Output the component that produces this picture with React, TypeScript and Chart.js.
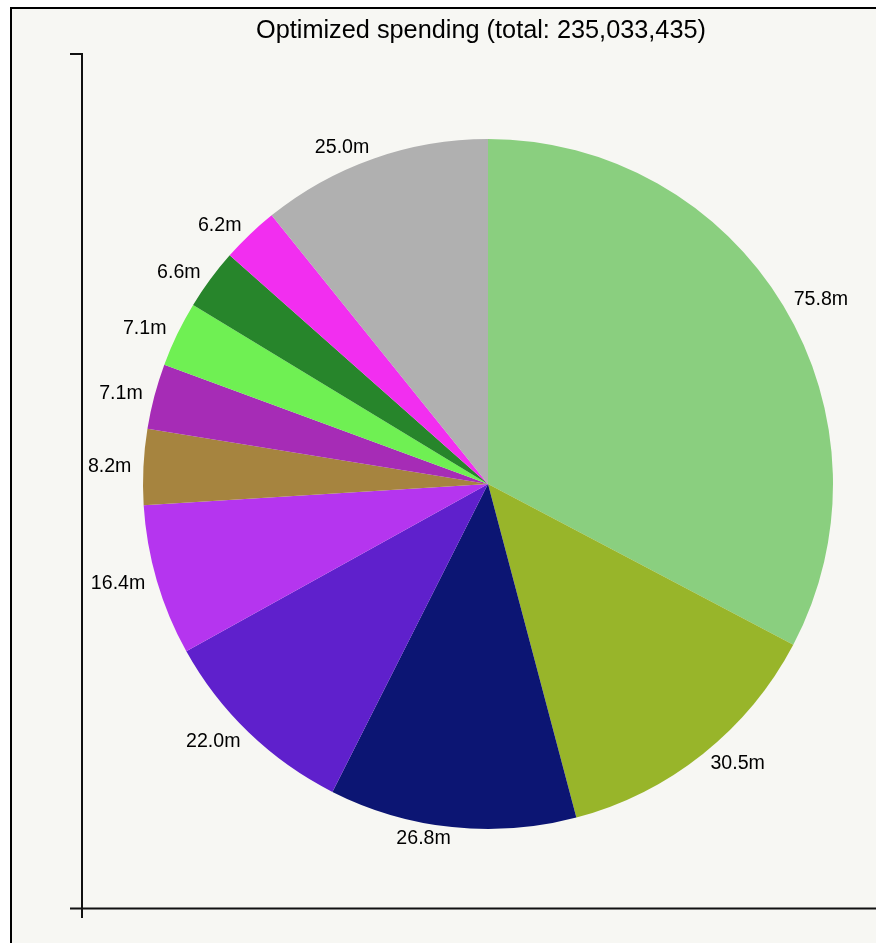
import React, { useEffect, useRef } from "react";
import { Chart, registerables } from "chart.js";

Chart.register(...registerables);

const categories = ["A", "B", "C", "D", "E", "F", "G", "H", "I", "J", "Other"];
const values = [75.8, 30.5, 26.8, 22.0, 16.4, 8.2, 7.1, 7.1, 6.6, 6.2, 25.0];
const valueLabels = ["75.8m", "30.5m", "26.8m", "22.0m", "16.4m", "8.2m", "7.1m", "7.1m", "6.6m", "6.2m", "25.0m"];
const colors = [
  "#8acf7f",
  "#98b52a",
  "#0c1573",
  "#5f20cc",
  "#b535ef",
  "#a6843f",
  "#a62cb6",
  "#6ff053",
  "#27852b",
  "#f22ef0",
  "#b0b0b0",
];
const titleText = "Optimized spending (total: 235,033,435)";

const FONT = '"Liberation Sans", Arial, Helvetica, sans-serif';

const decorPlugin = {
  id: "decor",
  beforeDraw(chart: any) {
    const ctx = chart.ctx as CanvasRenderingContext2D;
    const W = chart.width;
    const H = chart.height;
    ctx.save();
    ctx.fillStyle = "#ffffff";
    ctx.fillRect(0, 0, W, H);
    ctx.fillStyle = "#f7f7f3";
    ctx.fillRect(12, 9, W - 12, H - 9);
    // frame
    ctx.fillStyle = "#000000";
    ctx.fillRect(10, 7, W - 10, 2);
    ctx.fillRect(10, 7, 2, H - 7);
    // axes
    ctx.strokeStyle = "#111111";
    ctx.lineWidth = 2;
    ctx.beginPath();
    ctx.moveTo(70, 54);
    ctx.lineTo(82, 54);
    ctx.moveTo(82, 53);
    ctx.lineTo(82, 918);
    ctx.moveTo(70, 908.5);
    ctx.lineTo(W, 908.5);
    ctx.stroke();
    ctx.restore();
  },
  afterDraw(chart: any) {
    const ctx = chart.ctx as CanvasRenderingContext2D;
    const meta = chart.getDatasetMeta(0);
    ctx.save();
    ctx.fillStyle = "#000000";
    ctx.font = `25.3px ${FONT}`;
    ctx.textAlign = "center";
    ctx.textBaseline = "middle";
    ctx.fillText(titleText, 481, 31);

    ctx.font = `19.6px ${FONT}`;
    meta.data.forEach((arc: any, i: number) => {
      const p = arc.getProps(["x", "y", "startAngle", "endAngle", "outerRadius"], true);
      const mid = (p.startAngle + p.endAngle) / 2;
      const r = p.outerRadius + 12;
      const x = p.x + Math.cos(mid) * r;
      const y = p.y + Math.sin(mid) * r;
      ctx.textAlign = x >= p.x ? "left" : "right";
      ctx.textBaseline = "middle";
      ctx.fillText(valueLabels[i], x, y);
    });
    ctx.restore();
  },
};

export default function App() {
  const canvasRef = useRef<HTMLCanvasElement>(null);

  useEffect(() => {
    document.body.style.margin = "0";
    const canvas = canvasRef.current!;
    const chart = new Chart(canvas, {
      type: "pie",
      data: {
        labels: categories,
        datasets: [
          {
            data: values,
            backgroundColor: colors,
            borderWidth: 0,
          },
        ],
      },
      options: {
        responsive: false,
        animation: false,
        devicePixelRatio: 1,
        layout: { padding: { left: 143, right: 43, top: 139, bottom: 114 } },
        plugins: {
          legend: { display: false },
          tooltip: { enabled: false },
          title: { display: false },
        },
      },
      plugins: [decorPlugin],
    });
    return () => chart.destroy();
  }, []);

  return (
    <div style={{ position: "absolute", left: 0, top: 0, width: 876, height: 943 }}>
      <canvas ref={canvasRef} width={876} height={943} style={{ width: 876, height: 943, display: "block" }} />
    </div>
  );
}
